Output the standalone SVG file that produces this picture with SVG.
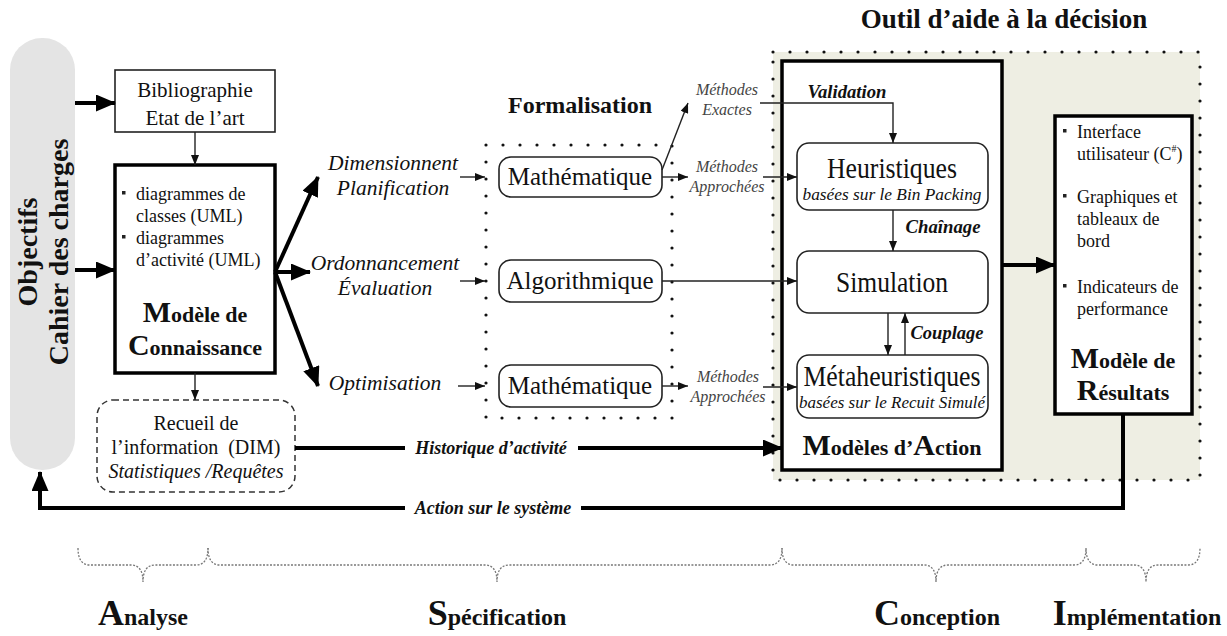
<svg xmlns="http://www.w3.org/2000/svg" width="1227" height="636" viewBox="0 0 1227 636">
<defs>
<marker id="ah" markerUnits="userSpaceOnUse" markerWidth="20" markerHeight="17" refX="19" refY="8.5" orient="auto"><path d="M0,0 L20,8.5 L0,17 z" fill="#000"/></marker>
<marker id="as" markerUnits="userSpaceOnUse" markerWidth="10" markerHeight="8" refX="10" refY="4" orient="auto"><path d="M0,0 L10,4 L0,8 z" fill="#111"/></marker>
<style>
text{font-family:"Liberation Serif","Times New Roman",serif;fill:#111}
.thick{stroke:#000;stroke-width:4;fill:none}
.thin{stroke:#222;stroke-width:1.4;fill:none}
.box{fill:#fff;stroke:#222;stroke-width:1.6}
.bbox{fill:#fff;stroke:#000;stroke-width:3.5}
.dots{fill:none;stroke:#111;stroke-width:3.2;stroke-dasharray:0 17;stroke-linecap:round}
.brace{fill:none;stroke:#777;stroke-width:1.3;stroke-dasharray:2 1.5}
.c{text-anchor:middle}
.it{font-style:italic}
.b{font-weight:bold}
.lbl{font-weight:bold;font-style:italic;font-size:18px;text-anchor:middle}
.m{font-size:16px;font-style:italic;fill:#444;text-anchor:middle}
.bl{fill:#222}
.t18{font-size:18px}
</style>
</defs>
<rect x="0" y="0" width="1227" height="636" fill="#fff"/>

<g id="outil">
<rect x="773" y="52" width="427" height="428" fill="#eeeee3"/>
<rect class="dots" x="773" y="52" width="427" height="428"/>
<text class="b c" x="1004" y="28" font-size="27">Outil d’aide à la décision</text>
</g>

<g id="objectifs">
<rect x="10" y="38" width="65" height="432" rx="32" fill="#e4e4e4"/>
<text class="b c" font-size="28" transform="translate(37,252) rotate(-90)">Objectifs</text>
<text class="b c" font-size="28" transform="translate(68,252) rotate(-90)">Cahier des charges</text>
</g>

<g id="biblio">
<rect class="box" x="115" y="70" width="160" height="62"/>
<text class="c" x="195" y="97" font-size="21">Bibliographie</text>
<text class="c" x="195" y="125" font-size="21">Etat de l’art</text>
</g>

<g id="connaissance">
<rect class="bbox" x="115" y="165" width="160" height="208"/>
<rect class="bl" x="122" y="191" width="3.5" height="3.5"/>
<text class="t18" x="136" y="200">diagrammes de</text>
<text class="t18" x="136" y="222">classes (UML)</text>
<rect class="bl" x="122" y="235" width="3.5" height="3.5"/>
<text class="t18" x="136" y="244">diagrammes</text>
<text class="t18" x="136" y="266">d’activité (UML)</text>
<text class="b c" x="195" y="322"><tspan font-size="30">M</tspan><tspan font-size="22">odèle de</tspan></text>
<text class="b c" x="195" y="355"><tspan font-size="30">C</tspan><tspan font-size="22">onnaissance</tspan></text>
</g>

<g id="recueil">
<rect x="97" y="400" width="198" height="92" rx="16" fill="#fff" stroke="#333" stroke-width="1.5" stroke-dasharray="6 4"/>
<text class="c" x="196" y="430" font-size="20">Recueil de</text>
<text class="c" x="196" y="454" font-size="20" xml:space="preserve">l’information  (DIM)</text>
<text class="c it" x="196" y="478" font-size="20">Statistiques /Requêtes</text>
</g>

<g id="labels-specif">
<text class="c it" x="393" y="170" font-size="21.5">Dimensionnent</text>
<text class="c it" x="393" y="195" font-size="21.5">Planification</text>
<text class="c it" x="385" y="270" font-size="21.5">Ordonnancement</text>
<text class="c it" x="385" y="295" font-size="21.5">Évaluation</text>
<text class="c it" x="385" y="390" font-size="21.5">Optimisation</text>
</g>

<g id="formalisation">
<rect class="dots" x="486" y="145" width="186" height="273"/>
<text class="b c" x="580" y="113" font-size="24">Formalisation</text>
</g>

<g id="math1">
<rect class="box" x="499" y="157" width="163" height="40" rx="12"/>
<text class="c" x="580" y="185" font-size="25">Mathématique</text>
</g>
<g id="algo">
<rect class="box" x="499" y="260" width="163" height="42" rx="12"/>
<text class="c" x="580" y="289" font-size="25">Algorithmique</text>
</g>
<g id="math2">
<rect class="box" x="499" y="365" width="163" height="42" rx="12"/>
<text class="c" x="580" y="394" font-size="25">Mathématique</text>
</g>

<g id="methodes">
<text class="m" x="727" y="95">Méthodes</text>
<text class="m" x="727" y="115">Exactes</text>
<text class="m" x="727" y="172">Méthodes</text>
<text class="m" x="727" y="192">Approchées</text>
<text class="m" x="728" y="382">Méthodes</text>
<text class="m" x="728" y="402">Approchées</text>
</g>

<g id="action">
<rect class="bbox" x="782" y="61" width="220" height="409"/>
<text class="b c" x="892" y="455"><tspan font-size="30">M</tspan><tspan font-size="22">odèles d’</tspan><tspan font-size="30">A</tspan><tspan font-size="22">ction</tspan></text>
</g>
<g id="heuristiques">
<rect class="box" x="797" y="143" width="191" height="67" rx="12"/>
<text class="c" x="892" y="178" font-size="30" textLength="130" lengthAdjust="spacingAndGlyphs">Heuristiques</text>
<text class="c it" x="892" y="200" font-size="17.5" textLength="179" lengthAdjust="spacingAndGlyphs">basées sur le Bin Packing</text>
</g>
<g id="simulation">
<rect class="box" x="797" y="251" width="191" height="62" rx="12"/>
<text class="c" x="892" y="292" font-size="30" textLength="112" lengthAdjust="spacingAndGlyphs">Simulation</text>
</g>
<g id="metaheuristiques">
<rect class="box" x="797" y="355" width="191" height="63" rx="12"/>
<text class="c" x="892" y="386" font-size="30" textLength="177" lengthAdjust="spacingAndGlyphs">Métaheuristiques</text>
<text class="c it" x="892" y="408" font-size="17.5" textLength="186" lengthAdjust="spacingAndGlyphs">basées sur le Recuit Simulé</text>
</g>

<g id="resultats">
<rect class="bbox" x="1055" y="116" width="137" height="298"/>
<rect class="bl" x="1063" y="129" width="3.5" height="3.5"/>
<text class="t18" x="1077" y="138">Interface</text>
<text class="t18" x="1077" y="160">utilisateur (C<tspan font-size="10" dy="-8">#</tspan><tspan dy="8">)</tspan></text>
<rect class="bl" x="1063" y="194" width="3.5" height="3.5"/>
<text class="t18" x="1077" y="203">Graphiques et</text>
<text class="t18" x="1077" y="225">tableaux de</text>
<text class="t18" x="1077" y="247">bord</text>
<rect class="bl" x="1063" y="284" width="3.5" height="3.5"/>
<text class="t18" x="1077" y="293">Indicateurs de</text>
<text class="t18" x="1077" y="315">performance</text>
<text class="b c" x="1123" y="368"><tspan font-size="30">M</tspan><tspan font-size="22">odèle de</tspan></text>
<text class="b c" x="1123" y="400"><tspan font-size="30">R</tspan><tspan font-size="22">ésultats</tspan></text>
</g>

<g id="connectors">
<path class="thick" d="M75,103 L115,103" marker-end="url(#ah)"/>
<path class="thick" d="M75,270 L115,270" marker-end="url(#ah)"/>
<path class="thin" d="M195,132 L195,165" marker-end="url(#as)"/>
<path class="thin" d="M195,373 L195,400" marker-end="url(#as)"/>
<path class="thick" d="M275,272 L318,177" marker-end="url(#ah)"/>
<path class="thick" d="M275,272 L310,272" marker-end="url(#ah)"/>
<path class="thick" d="M275,272 L318,386" marker-end="url(#ah)"/>
<path class="thin" d="M460,177 L485,177" marker-end="url(#as)"/>
<path class="thin" d="M460,281 L485,281" marker-end="url(#as)"/>
<path class="thin" d="M458,386 L485,386" marker-end="url(#as)"/>
<path class="thin" d="M662,170 L688,103" marker-end="url(#as)"/>
<path class="thin" d="M662,177 L688,177" marker-end="url(#as)"/>
<path class="thin" d="M763,177 L797,177" marker-end="url(#as)"/>
<path class="thin" d="M760,103 L893,103 L893,143" marker-end="url(#as)"/>
<path class="thin" d="M662,281 L797,281" marker-end="url(#as)"/>
<path class="thin" d="M662,386 L688,386" marker-end="url(#as)"/>
<path class="thin" d="M763,387 L797,387" marker-end="url(#as)"/>
<path class="thin" d="M893,210 L893,251" marker-end="url(#as)"/>
<path class="thin" d="M888,313 L888,355" marker-end="url(#as)"/>
<path class="thin" d="M905,355 L905,313" marker-end="url(#as)"/>
<path class="thick" d="M1002,265 L1055,265" marker-end="url(#ah)"/>
<path class="thick" d="M295,448 L782,448" marker-end="url(#ah)"/>
<path class="thick" d="M1123,414 L1123,508 L40,508 L40,472" marker-end="url(#ah)"/>
<rect x="405" y="438" width="173" height="22" fill="#fff"/>
<text class="lbl" x="491" y="454">Historique d’activité</text>
<rect x="405" y="498" width="176" height="20" fill="#fff"/>
<text class="lbl" x="493" y="514">Action sur le système</text>
<text class="lbl" x="847" y="98" textLength="79" lengthAdjust="spacingAndGlyphs">Validation</text>
<text class="lbl" x="943" y="233" textLength="75" lengthAdjust="spacingAndGlyphs">Chaînage</text>
<text class="lbl" x="947" y="339" textLength="73" lengthAdjust="spacingAndGlyphs">Couplage</text>
</g>

<g id="phases">
<path class="brace" d="M78,548 Q78,565 90,565 L131,565 Q143,565 143,582 Q143,565 155,565 L196,565 Q208,565 208,548"/>
<path class="brace" d="M208,548 Q208,565 220,565 L485,565 Q497,565 497,582 Q497,565 509,565 L770,565 Q782,565 782,548"/>
<path class="brace" d="M782,548 Q782,565 794,565 L924,565 Q936,565 936,582 Q936,565 948,565 L1074,565 Q1086,565 1086,548"/>
<path class="brace" d="M1086,548 Q1086,565 1098,565 L1134,565 Q1146,565 1146,582 Q1146,565 1158,565 L1188,565 Q1200,565 1200,548"/>
<text class="b c" x="143" y="625"><tspan font-size="36">A</tspan><tspan font-size="24">nalyse</tspan></text>
<text class="b c" x="497" y="625"><tspan font-size="36">S</tspan><tspan font-size="24">pécification</tspan></text>
<text class="b c" x="937" y="625"><tspan font-size="36">C</tspan><tspan font-size="24">onception</tspan></text>
<text class="b c" x="1137" y="625"><tspan font-size="36">I</tspan><tspan font-size="24">mplémentation</tspan></text>
</g>
</svg>
